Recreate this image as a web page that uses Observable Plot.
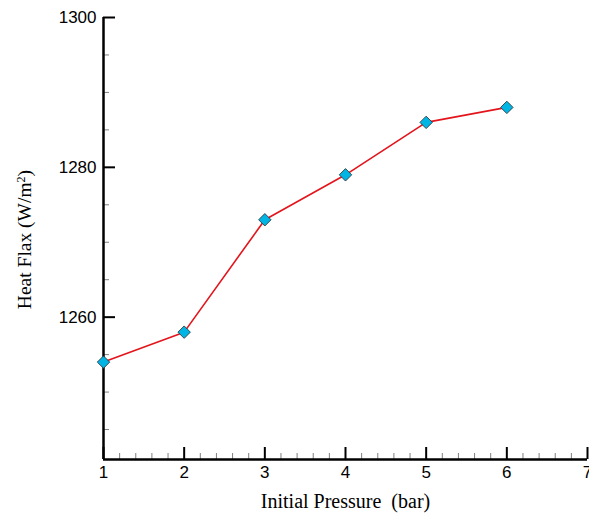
<!DOCTYPE html>
<html>
<head>
<meta charset="utf-8">
<script src="https://cdn.jsdelivr.net/npm/d3@7"></script>
<script src="https://cdn.jsdelivr.net/npm/@observablehq/plot@0.6"></script>
<style>
  html, body { margin: 0; padding: 0; background: #fff; }
  #chart svg { display: block; }
  #chart svg text.ticklab { font-size: 17px !important; font-family: "Liberation Sans", Arial, sans-serif; }
</style>
</head>
<body>
<div id="chart"></div>
<script>
// ---- data ----
const pressure = [1, 2, 3, 4, 5, 6];                    // bar
const heatFlux = [1254, 1258, 1273, 1279, 1286, 1288];  // W/m2
const xMajorTicks = [1, 2, 3, 4, 5, 6, 7];
const yMajorTicks = [1260, 1280, 1300];
const xMinorTicks = [1.2, 1.4, 1.6, 1.8, 2.2, 2.4, 2.6, 2.8, 3.2, 3.4, 3.6, 3.8,
                     4.2, 4.4, 4.6, 4.8, 5.2, 5.4, 5.6, 5.8, 6.2, 6.4, 6.6, 6.8];
const yMinorTicks = [1245, 1250, 1255, 1265, 1270, 1275, 1285, 1290, 1295];
const xDomain = [1, 7];
const yDomain = [1241, 1300];
const xTitle = "Initial Pressure\u00a0 (bar)";
const yTitle = "Heat Flax (W/m2)";

const rows = pressure.map((p, i) => ({p, q: heatFlux[i]}));

const W = 589, H = 516;
const mL = 103, mR = 2, mT = 17, mB = 57;
const plotW = W - mL - mR, plotH = H - mT - mB;
const sans = "Liberation Sans, Arial, sans-serif";
const serif = "Liberation Serif, Times New Roman, serif";

const chart = Plot.plot({
  width: W, height: H,
  marginLeft: mL, marginRight: mR, marginTop: mT, marginBottom: mB,
  style: {background: "#fff", overflow: "visible", fontSize: "17px", fontFamily: sans, color: "#000"},
  x: {domain: xDomain, axis: null},
  y: {domain: yDomain, axis: null},
  marks: [
    // minor ticks (inward)
    Plot.tickX(xMinorTicks, {x: d => d, insetTop: plotH - 6, stroke: "#808080", strokeWidth: 1}),
    Plot.tickY(yMinorTicks, {y: d => d, insetRight: plotW - 6, stroke: "#808080", strokeWidth: 1}),
    // major ticks (inward)
    Plot.tickX(xMajorTicks, {x: d => d, insetTop: plotH - 12, stroke: "#000", strokeWidth: 2}),
    Plot.tickY(yMajorTicks, {y: d => d, insetRight: plotW - 12, stroke: "#000", strokeWidth: 2}),
    // axis lines
    Plot.ruleY([yDomain[0]], {stroke: "#000", strokeWidth: 2.5}),
    Plot.ruleX([xDomain[0]], {stroke: "#000", strokeWidth: 2.5}),
    // tick labels
    Plot.axisX(xMajorTicks, {tickSize: 0, tickPadding: 6, tickFormat: "d", fontSize: 17, fontFamily: sans, fill: "#000", label: null}),
    Plot.axisY(yMajorTicks, {tickSize: 0, tickPadding: 7, tickFormat: "d", fontSize: 17, fontFamily: sans, fill: "#000", label: null}),
    // data
    Plot.line(rows, {x: "p", y: "q", stroke: "#e3141b", strokeWidth: 1.6}),
    Plot.dot(rows, {x: "p", y: "q", symbol: "diamond2", r: 5.6, fill: "#00b4e4", stroke: "#2f3b40", strokeWidth: 0.9}),
    // titles
    Plot.text([xTitle], {text: d => d, frameAnchor: "bottom", textAnchor: "middle", lineAnchor: "middle", dy: 42, fontSize: 20, fontFamily: serif, fill: "#000"}),
    Plot.text([yTitle], {text: d => d, frameAnchor: "left", textAnchor: "middle", lineAnchor: "middle", dx: -79, dy: 1, rotate: -90, fontSize: 19.5, fontFamily: serif, fill: "#000", className: "ytitle"})
  ]
});

// tick labels: mark their text elements so the stylesheet sizes them
d3.select(chart).selectAll("g[aria-label='x-axis tick label'] text, g[aria-label='y-axis tick label'] text")
  .classed("ticklab", true);

// superscript for the unit
d3.select(chart).selectAll("g.ytitle text").each(function() {
  const t = d3.select(this);
  t.text(null);
  t.append("tspan").text("Heat Flax (W/m");
  t.append("tspan").attr("dy", "-0.5em").attr("font-size", "0.62em").text("2");
  t.append("tspan").attr("dy", "0.31em").text(")");
});

document.getElementById("chart").appendChild(chart);
</script>
</body>
</html>
